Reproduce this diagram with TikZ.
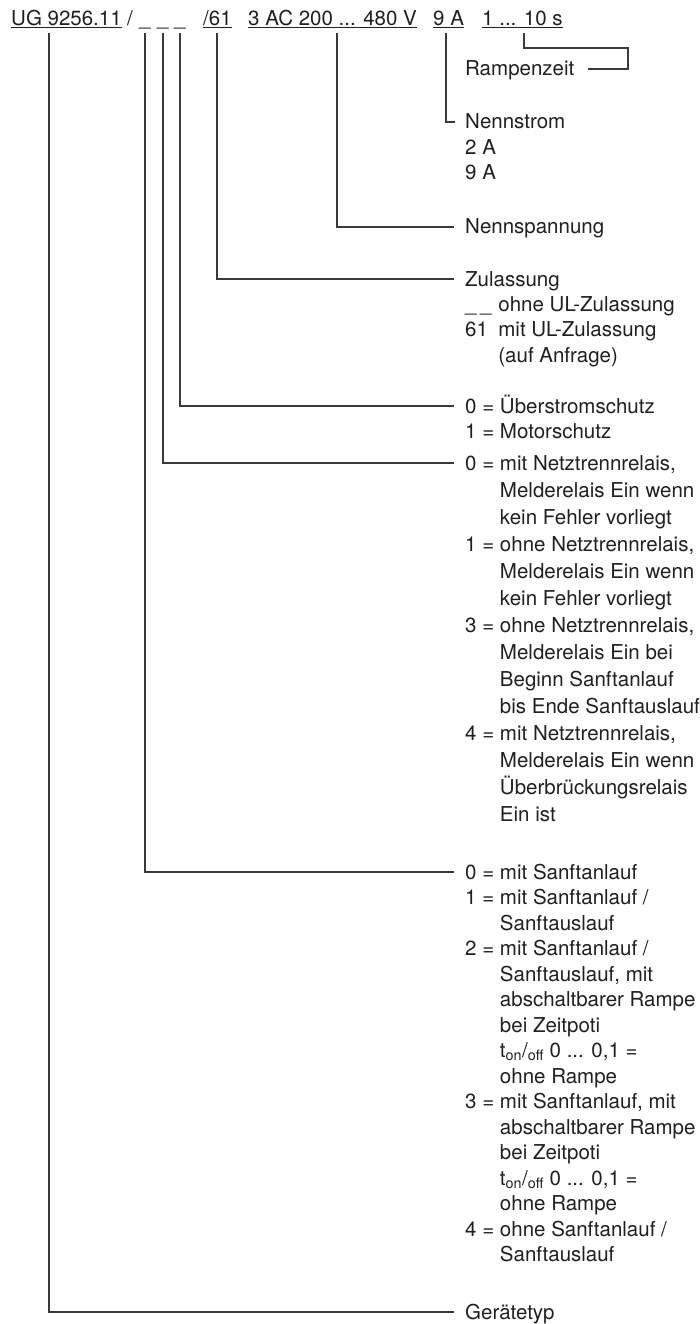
\documentclass[tikz,border=0pt]{standalone}
\usepackage{fontspec}
\setmainfont{TeX Gyre Heros}
\usepackage{tikz}
\usetikzlibrary{calc}
\definecolor{codeink}{HTML}{231F20}
\definecolor{codeline}{HTML}{3A3A3A}
\newcommand{\tonoff}{t\textsubscript{on}/\textsubscript{off}}

\begin{document}
\begin{tikzpicture}[x=1pt, y=-1pt,
  hdr/.style={anchor=base west, inner sep=0pt, text=codeink, font=\fontsize{20.5}{25.5}\selectfont},
  desc/.style={anchor=base west, inner sep=0pt, text=codeink, font=\fontsize{20.5}{25.5}\selectfont},
  conn/.style={draw=codeline, line width=1.1pt},
  uline/.style={draw=codeink, line width=1pt}]
  % Canvas
  \useasboundingbox[fill=white] (0,0) rectangle (700,1324);

  % Type code
  \node[hdr] (ug) at (11,26) {UG 9256.11};
  \node[hdr] (sl) at (127,26) {/};
  \node[hdr] (ua) at (139,26) {\_};
  \node[hdr] (ub) at (157,26) {\_};
  \node[hdr] (uc) at (174,26) {\_};
  \node[hdr] (ul61) at (203,26) {/61};
  \node[hdr] (volt) at (248,26) {3 AC 200 ... 480 V};
  \node[hdr] (amp) at (433,26) {9 A\hspace{5pt}};
  \node[hdr] (time) at (482,26) {1 ... 10 s};
  \foreach \n in {ug,ul61,volt,amp,time}
    \draw[uline] ([yshift=-2pt]\n.base west) -- ([yshift=-2pt]\n.base east);

  % Descriptions
  \node[desc] (rz) at (465,76) {Rampenzeit};
  \node[desc] (nstrom) at (465,129) {\begin{tabular}[t]{@{}l@{}}
    Nennstrom\\ 2 A\\ 9 A\end{tabular}};
  \node[desc] (nspann) at (465,234) {Nennspannung};
  \node[desc] (zul) at (465,286) {\begin{tabular}[t]{@{}l@{\hspace{7pt}}l@{}}
    \multicolumn{2}{@{}l@{}}{Zulassung}\\
    \_\,\_ & ohne UL-Zulassung\\
    61 & mit UL-Zulassung\\
       & (auf Anfrage)\end{tabular}};
  \node[desc] (ueber) at (465,413) {\begin{tabular}[t]{@{}l@{\ }l@{\ }l@{}}
    0 & = & Überstromschutz\\
    1 & = & Motorschutz\end{tabular}};
  \node[desc] (netz) at (465,470) {\renewcommand{\arraystretch}{1.06}%
    \begin{tabular}[t]{@{}l@{\ }l@{\ }l@{}}
    0 & = & mit Netztrennrelais,\\
      &   & Melderelais Ein wenn\\
      &   & kein Fehler vorliegt\\
    1 & = & ohne Netztrennrelais,\\
      &   & Melderelais Ein wenn\\
      &   & kein Fehler vorliegt\\
    3 & = & ohne Netztrennrelais,\\
      &   & Melderelais Ein bei\\
      &   & Beginn Sanftanlauf\\
      &   & bis Ende Sanftauslauf\\
    4 & = & mit Netztrennrelais,\\
      &   & Melderelais Ein wenn\\
      &   & Überbrückungsrelais\\
      &   & Ein ist\end{tabular}};
  \node[desc] (sanft) at (465,879) {\begin{tabular}[t]{@{}l@{\ }l@{\ }l@{}}
    0 & = & mit Sanftanlauf\\
    1 & = & mit Sanftanlauf /\\
      &   & Sanftauslauf\\
    2 & = & mit Sanftanlauf /\\
      &   & Sanftauslauf, mit\\
      &   & abschaltbarer Rampe\\
      &   & bei Zeitpoti\\
      &   & \tonoff{} 0 ... 0,1 =\\
      &   & ohne Rampe\\
    3 & = & mit Sanftanlauf, mit\\
      &   & abschaltbarer Rampe\\
      &   & bei Zeitpoti\\
      &   & \tonoff{} 0 ... 0,1 =\\
      &   & ohne Rampe\\
    4 & = & ohne Sanftanlauf /\\
      &   & Sanftauslauf\end{tabular}};
  \node[desc] (gtyp) at (465,1319) {Gerätetyp};

  % Connectors
  \draw[conn] ([shift={(42,7)}]time.base west) |- ++(104,15) |- ([shift={(13,-7)}]rz.base east);
  \draw[conn] ([shift={(13,7)}]amp.base west) |- ([shift={(-10,-7)}]nstrom.base west);
  \draw[conn] ([shift={(89,7)}]volt.base west) |- ([shift={(-11,-7)}]nspann.base west);
  \draw[conn] ([shift={(14,7)}]ul61.base west) |- ([shift={(-11,-7)}]zul.base west);
  \draw[conn] ([shift={(6,7)}]uc.base west) |- ([shift={(-11,-7)}]ueber.base west);
  \draw[conn] ([shift={(6,7)}]ub.base west) |- ([shift={(-11,-7)}]netz.base west);
  \draw[conn] ([shift={(6,7)}]ua.base west) |- ([shift={(-11,-7)}]sanft.base west);
  \draw[conn] ([shift={(38,7)}]ug.base west) |- ([shift={(-11,-7)}]gtyp.base west);
\end{tikzpicture}
\end{document}
